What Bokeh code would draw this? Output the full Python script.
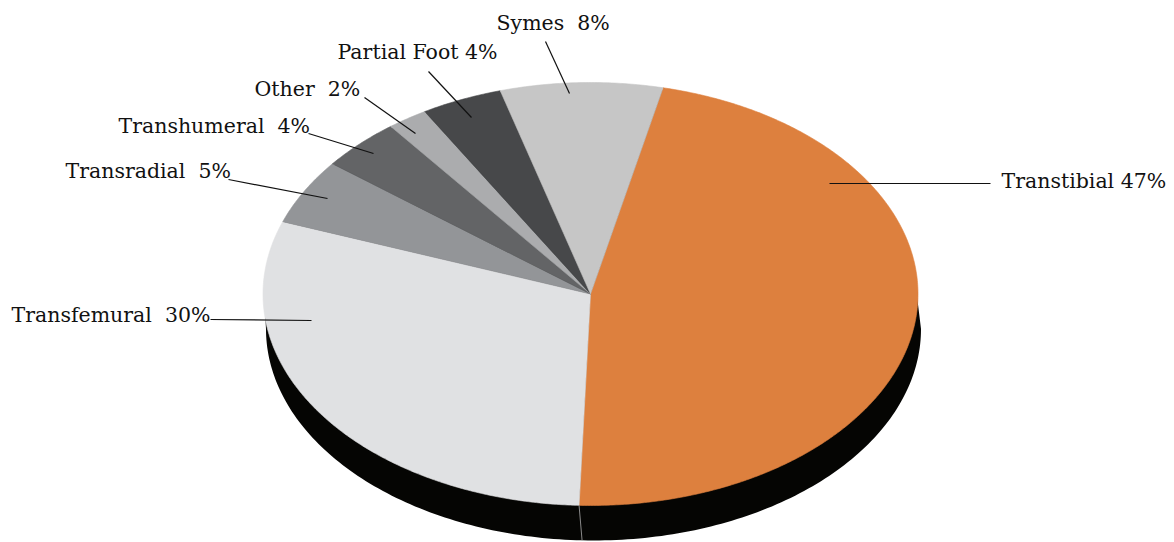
import math
from bokeh.plotting import figure
from bokeh.models import Range1d, ColumnDataSource
from bokeh.core.properties import value
from bokeh.embed import file_html
from bokeh.resources import INLINE

# ---- data ----
categories = ["Transtibial", "Transfemural", "Transradial", "Transhumeral", "Other", "Partial Foot", "Symes"]
percent = [47, 30, 5, 4, 2, 4, 8]
label_texts = ["Transtibial 47%", "Transfemural \u00a030%", "Transradial \u00a05%", "Transhumeral \u00a04%",
               "Other \u00a02%", "Partial Foot 4%", "Symes \u00a08%"]
colors = ["#DD803E", "#E0E1E3", "#939598", "#636466", "#ABACAE", "#47484A", "#C6C6C6"]

# ---- layout (pixel space of the picture) ----
CX, CY, RX, RY = 590.0, 293.5, 327.5, 211.5
DEPTH, SHIFT = 35.0, 3.0
START_DEG = 12.8
TEXT_DY = -8
# label anchor (left x, baseline y) and leader line (x0, y0, x1, y1)
label_pos = [(1001, 188), (11, 322), (65, 178), (118, 133), (254, 96), (337, 59), (496, 30)]
leaders = [(990, 183, 829, 183), (210, 319, 311, 320), (228, 179, 327, 198),
           (308, 133, 373, 153), (364, 97, 415, 133), (428, 71, 471, 117), (545, 41, 569, 93)]

W, H = 1174, 542
p = figure(width=W, height=H, output_backend="svg", toolbar_location=None,
           x_range=Range1d(0, W), y_range=Range1d(H, 0),
           x_axis_location=None, y_axis_location=None, min_border=0)
p.outline_line_color = None
p.xgrid.visible = False
p.ygrid.visible = False
p.background_fill_color = "white"


def ept(deg, dx=0.0, dy=0.0, shrink=0.0):
    t = math.radians(deg)
    return CX + dx + (RX - shrink) * math.sin(t), CY + dy - (RY - shrink) * math.cos(t)


# side / depth of the pie
sx, sy = [], []
for d in range(-90, 91):
    x, y = ept(d, shrink=2.0)
    sx.append(x); sy.append(y)
x, y = ept(90); sx.append(x - 1.0); sy.append(y + 2)
for d in range(90, 271):
    x, y = ept(d, SHIFT, DEPTH)
    sx.append(x); sy.append(y)
x, y = ept(270); sx.append(x + 1.0); sy.append(y + 2)
p.patch(sx, sy, fill_color="#050503", line_color=None)

# slices
total = float(sum(percent))
xs, ys = [], []
a = START_DEG
bounds = []
for v in percent:
    span = 360.0 * v / total
    n = max(4, int(span * 2))
    px, py = [CX], [CY]
    for i in range(n + 1):
        x, y = ept(a + span * i / n)
        px.append(x); py.append(y)
    xs.append(px); ys.append(py)
    a += span
    bounds.append(a)
src = ColumnDataSource(dict(xs=xs, ys=ys, color=colors, cat=categories))
p.patches("xs", "ys", source=src, fill_color="color", line_color="color", line_width=0.6)

# seam on the side where the first slice ends
bx, by = ept(bounds[0])
p.segment(x0=[bx], y0=[by], x1=[bx + SHIFT], y1=[by + DEPTH], line_color="#8a8a8a", line_width=1)

# leader lines
p.segment(x0=[l[0] for l in leaders], y0=[l[1] for l in leaders],
          x1=[l[2] for l in leaders], y1=[l[3] for l in leaders],
          line_color="#111111", line_width=1.2)

# labels
p.text(x=[q[0] for q in label_pos], y=[q[1] + TEXT_DY for q in label_pos], text=label_texts,
       text_font=value("DejaVu Serif"), text_font_size="20.5px", text_color="#111111",
       text_align="left", text_baseline="alphabetic")

open("out.html", "w").write(file_html(p, INLINE))
